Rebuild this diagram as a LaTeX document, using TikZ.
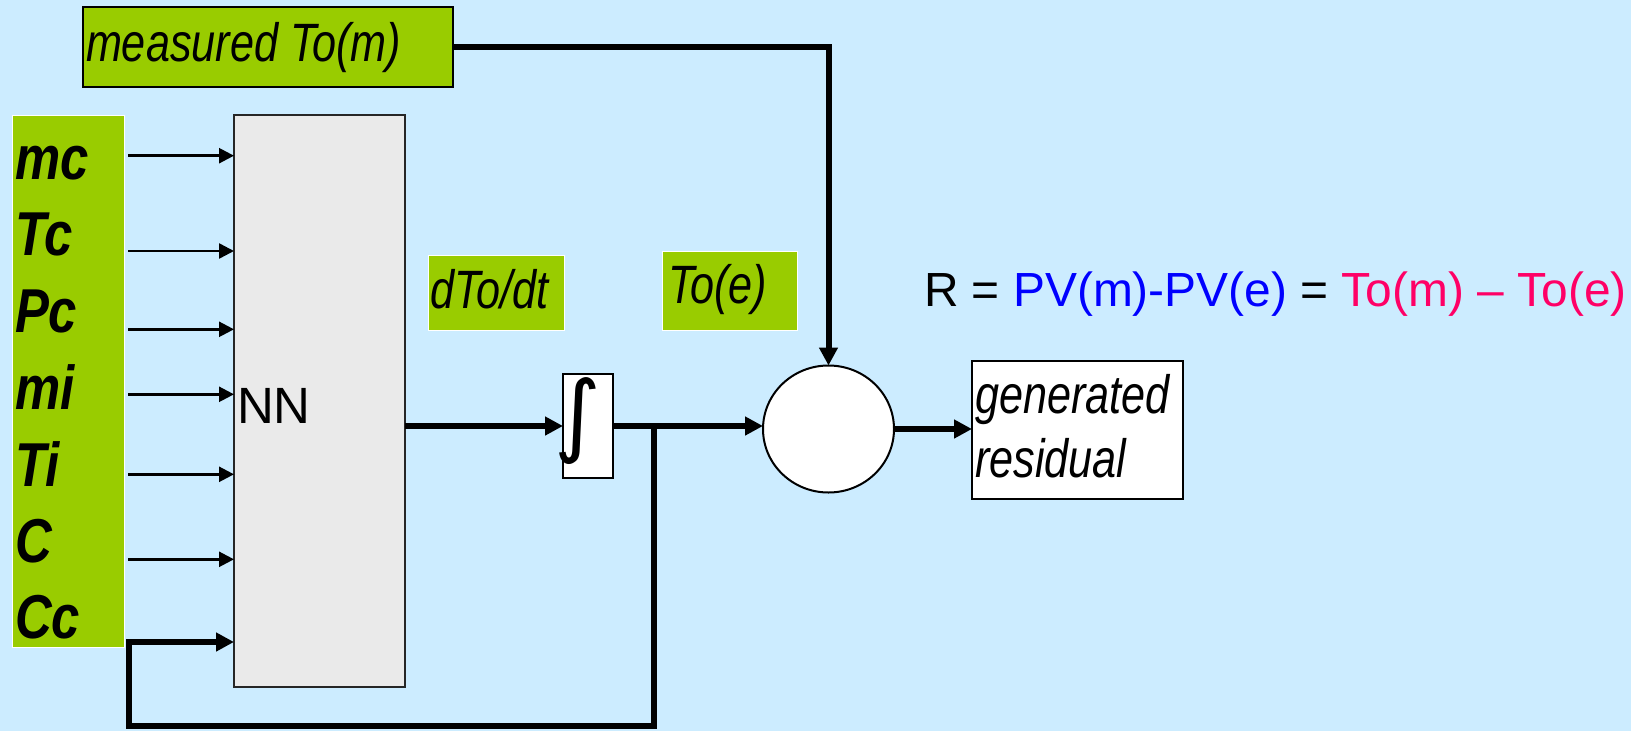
\documentclass[tikz,border=0pt]{standalone}
\usepackage{fontspec}
\setmainfont{Liberation Sans}
\newfontfamily\dejavu{DejaVu Sans}
\usepackage{graphicx}
\usetikzlibrary{arrows.meta,shapes.geometric,calc}
\definecolor{bg}{RGB}{204,236,255}
\definecolor{lime}{RGB}{153,204,0}
\definecolor{nngray}{RGB}{234,234,234}
\definecolor{eqblue}{RGB}{0,0,255}
\definecolor{eqpink}{RGB}{255,0,102}
\newcommand\nar[1]{\scalebox{0.8}[1]{#1}}
\newcommand\bnar[1]{\scalebox{0.82}[1]{#1}}
\begin{document}
\begin{tikzpicture}[x=1pt,y=-1pt,
  every node/.style={outer sep=0pt},
  greenbox/.style={fill=lime, draw=white, line width=1pt, inner sep=0pt, anchor=north west},
  blockbox/.style={draw=black, line width=2pt, fill=white, inner sep=0pt, anchor=north west},
  thinarr/.style={line width=2.5pt, -{Triangle[length=15pt,width=15pt]}},
  thickarr/.style={line width=6pt, -{Triangle[length=18pt,width=18pt]}},
  ittext/.style={anchor=base west, inner sep=0pt, font=\fontsize{54}{64}\selectfont\itshape},
  inlab/.style={anchor=base west, inner sep=0pt, font=\fontsize{62}{62}\selectfont\bfseries\itshape},
]
\fill[bg] (0,0) rectangle (1631,731);
\useasboundingbox (0,0) rectangle (1631,731);

% measured box
\node[greenbox, draw=black, line width=2pt, minimum width=370, minimum height=80] (meas) at (83,7) {};
\node[ittext] (meastxt) at (86,61) {\nar{measured To(m)}};

% input column
\node[greenbox, minimum width=112, minimum height=532] (col) at (12,115) {};
\node[inlab] (lmc) at (15,179) {\bnar{mc}};
\node[inlab] (ltc) at (15,255) {\bnar{Tc}};
\node[inlab] (lpc) at (15,332) {\bnar{Pc}};
\node[inlab] (lmi) at (15,409) {\bnar{mi}};
\node[inlab] (lti) at (15,486) {\bnar{Ti}};
\node[inlab] (lc)  at (15,562) {\bnar{C}};
\node[inlab] (lcc) at (15,638) {\bnar{Cc}};

% NN block
\node[draw=black!85, fill=nngray, line width=1.5pt, minimum width=171, minimum height=572, anchor=north west, inner sep=0pt] (nn) at (234,115) {};
\node[anchor=base west, inner sep=0pt, font=\fontsize{51}{51}\selectfont] (nntxt) at (237,423) {NN};

\foreach \yy in {155.7,251,329.3,394.3,474.3,559.3}
  \draw[thinarr] ($(col.east |- 0,\yy)+(4,0)$) -- (nn.west |- 0,\yy);

% labels
\node[greenbox, minimum width=136, minimum height=75] (dto) at (428,255) {};
\node[ittext] (dtotxt) at (430,308) {\nar{dTo/dt}};
\node[greenbox, minimum width=135, minimum height=79] (toe) at (662,251) {};
\node[ittext] (toetxt) at (668,303) {\nar{To(e)}};

% integrator
\node[blockbox, line width=1.5pt, minimum width=50, minimum height=104] (int) at (563,374) {};
\node[inner sep=0pt] (intsym) at (578,421.5) {\resizebox*{!}{87pt}{\dejavu ∫}};

% summing junction
\node[ellipse, draw=black, fill=white, line width=2pt, minimum width=131, minimum height=127, inner sep=0pt] (circ) at (828.5,429) {};

% generated residual
\node[blockbox, minimum width=211, minimum height=138] (gen) at (972,361) {};
\node[ittext] (gen1) at (975,413) {\nar{generated}};
\node[ittext] (gen2) at (975,477) {\nar{residual}};

% equation
\node[anchor=base west, inner sep=0pt, font=\fontsize{47.9}{50}\selectfont] (eq) at (924,306)
  {R = \textcolor{eqblue}{PV(m)-PV(e)} = \textcolor{eqpink}{To(m) \textendash{} To(e)}};

% connectors
\draw[thickarr] (meas.east) -| (circ.north);
\draw[thickarr] (int.west -| nn.east) -- (int.west);
\draw[thickarr] (int.east) -- (int.east -| circ.west);
\draw[thickarr] (circ.east) -- (circ.east -| gen.west);
\coordinate (br) at ($(int.east)+(41,0)$);
\coordinate (bl) at (128.5,726);
\draw[thickarr] (br) |- (bl) |- (nn.west |- 0,642);
\end{tikzpicture}
\end{document}
